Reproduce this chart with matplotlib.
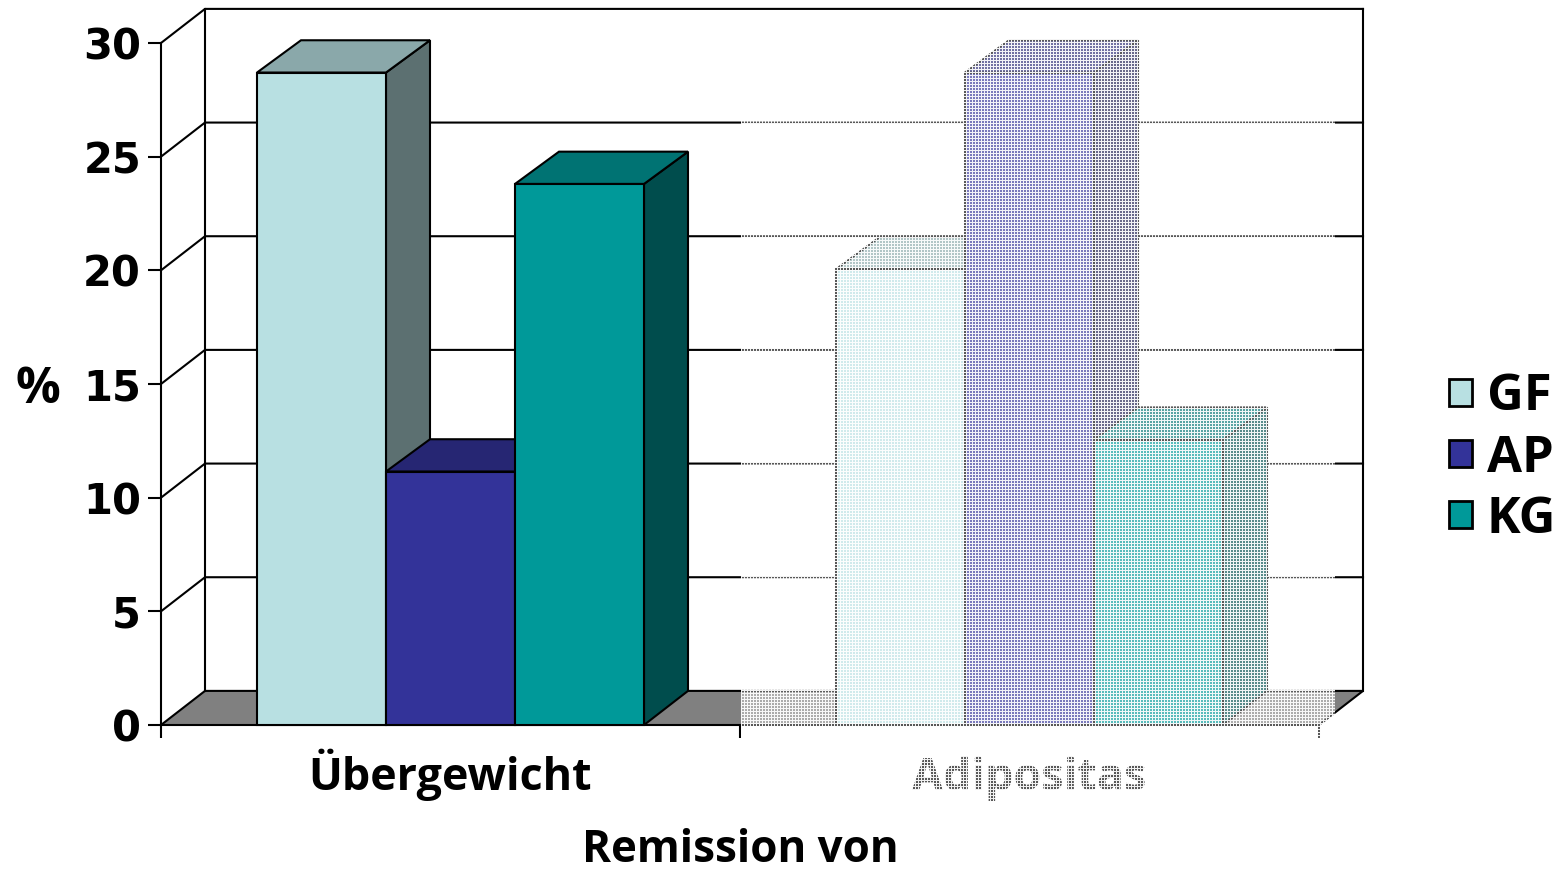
import numpy as np
import matplotlib
matplotlib.use("Agg")
import matplotlib.pyplot as plt
from matplotlib.patches import Patch

categories = ["Übergewicht", "Adipositas"]
series_names = ["GF", "AP", "KG"]
gf_values = [28.7, 20.05]
ap_values = [11.15, 28.7]
kg_values = [23.8, 12.55]
y_ticks = [0, 5, 10, 15, 20, 25, 30]
colors = ["#B8E0E2", "#333399", "#009999"]

W, H = 1561, 870
FONT = "Open Sans"
FS = 32.6
LW = 1.5

fig = plt.figure(figsize=((W + 0.01) / 100, (H + 0.01) / 100), dpi=100, facecolor="white")
L, R, B, T = 161, 1319, 725, 43
ax = fig.add_axes([L / W, 1 - B / H, (R - L) / W, (B - T) / H])
ax.patch.set_alpha(0)
ax.set_xlim(0, 2)
ax.set_ylim(0, 30)

dx = 44 / 579
dy = 1.5
dy_top = 1.42
bar_w = 129 / 579


def shade(c, f):
    r = matplotlib.colors.to_rgb(c)
    return tuple(v * f for v in r)


ax.fill([0, dx, 2 + dx, 2], [0, dy, dy, 0], color="#808080", lw=0, clip_on=False, zorder=1)
ax.plot([0, dx, 2 + dx, 2], [0, dy, dy, 0], color="black", lw=LW, clip_on=False, zorder=1.1)
ax.plot([dx, dx], [dy, 30 + dy], color="black", lw=LW, clip_on=False, zorder=1.1)
ax.plot([2 + dx, 2 + dx], [dy, 30 + dy], color="black", lw=LW, clip_on=False, zorder=1.1)
for t in y_ticks[1:]:
    ax.plot([0, dx, 2 + dx], [t, t + dy, t + dy], color="black", lw=LW,
            clip_on=False, zorder=1.1)

all_values = [gf_values, ap_values, kg_values]
z = 2
for ci in range(len(categories)):
    for si, vals in enumerate(all_values):
        v = vals[ci]
        x0 = ci + 0.5 + (si - 1.5) * bar_w
        x1 = x0 + bar_w
        c = colors[si]
        ax.fill([x1, x1 + dx, x1 + dx, x1], [0, dy, v + dy_top, v], facecolor=shade(c, 0.5),
                edgecolor="black", lw=LW, clip_on=False, zorder=z)
        ax.fill([x0, x0 + dx, x1 + dx, x1], [v, v + dy_top, v + dy_top, v], facecolor=shade(c, 0.75),
                edgecolor="black", lw=LW, clip_on=False, zorder=z)
        ax.bar(x0, v, width=bar_w, align="edge", color=c, edgecolor="black", lw=LW,
               clip_on=False, zorder=z + 0.1)
        z += 1

for s in ("top", "right"):
    ax.spines[s].set_visible(False)
for s in ("left", "bottom"):
    ax.spines[s].set_linewidth(LW)
    ax.spines[s].set_zorder(1.2)
ax.set_yticks(y_ticks)
ax.set_yticklabels([str(t) for t in y_ticks], fontname="DejaVu Sans", fontweight="bold", fontsize=30)
ax.tick_params(axis="y", length=9.4, width=LW, pad=5)
ax.set_xticks([0, 1, 2])
ax.set_xticklabels([])
ax.tick_params(axis="x", which="major", length=9, width=LW)
ax.set_xticks([0.5, 1.5], minor=True)
ax.set_xticklabels(categories, minor=True, fontname=FONT, fontweight="bold", fontsize=FS * 0.99)
ax.tick_params(axis="x", which="minor", length=0, pad=46.8)
for lab in ax.get_xticklabels(minor=True):
    lab.set_verticalalignment("baseline")
ax.set_ylabel("%", rotation=0, fontname=FONT, fontweight="bold", fontsize=FS * 1.1,
              va="center", ha="center")
ax.yaxis.set_label_coords(-0.106, 0.4915)
ax.set_xlabel("Remission von", fontname=FONT, fontweight="bold", fontsize=FS * 0.97, va="center")
ax.xaxis.set_label_coords(0.5, -0.184)

handles = [Patch(facecolor=c, edgecolor="black", lw=2, label=n) for c, n in zip(colors, series_names)]
fig.legend(handles=handles, loc="center left", bbox_to_anchor=(1449 / W, 1 - 458.5 / H),
           bbox_transform=fig.transFigure, frameon=False, prop={"family": FONT, "weight": "bold", "size": 36.5},
           handlelength=0.45, handleheight=0.45, handletextpad=0.29, labelspacing=0.22, borderpad=0,
           borderaxespad=0)

rows, cols = np.mgrid[0:H, 0:W]
lines = (rows % 3 == 0) | (cols % 3 == 0)
region = (cols >= 741) & (cols < 1335) & (rows >= 12) & (rows < 810)
overlay = np.zeros((H, W, 4))
overlay[..., :3] = 1.0
overlay[..., 3] = np.where(lines, 0.95, 0.35) * region
fig.figimage(overlay, 0, 0, origin="upper", zorder=10, resize=False)

fig.savefig("out.png", dpi=100, facecolor="white")
